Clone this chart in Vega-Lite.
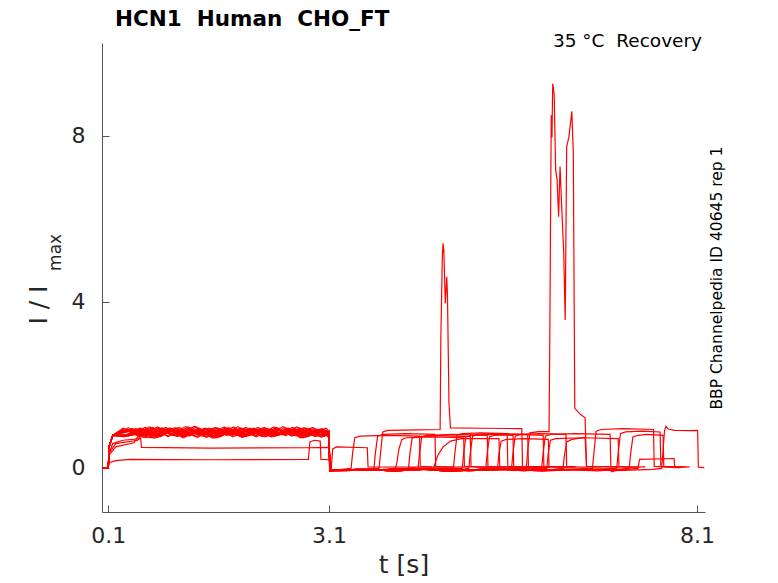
{
  "$schema": "https://vega.github.io/schema/vega-lite/v6.json",
  "width": 603,
  "height": 469,
  "autosize": {"type": "none"},
  "padding": {"left": 102, "top": 43, "right": 73, "bottom": 71},
  "title": {
    "text": "HCN1\u00a0\u00a0Human\u00a0\u00a0CHO_FT",
    "frame": "group",
    "anchor": "start",
    "dx": 13,
    "offset": 1,
    "fontSize": 21.5,
    "fontWeight": "bold",
    "color": "#000000"
  },
  "config": {
    "font": "DejaVu Sans",
    "view": {"stroke": null},
    "axis": {
      "grid": false,
      "domainColor": "#555555",
      "tickColor": "#555555",
      "labelColor": "#262626",
      "titleColor": "#262626",
      "labelFontSize": 22,
      "titleFontSize": 25,
      "titleFontWeight": "normal",
      "tickSize": -7
    }
  },
  "data": {
    "values": [
      {"s":1,"t":0,"v":0},{"s":1,"t":0.1,"v":-0.01},{"s":1,"t":0.11,"v":0.35},{"s":1,"t":0.16,"v":0.58},{"s":1,"t":0.3,"v":0.66},{"s":1,"t":0.54,"v":0.7},{"s":1,"t":0.55,"v":0.49},{"s":1,"t":1.5,"v":0.47},{"s":1,"t":2.8,"v":0.48},{"s":1,"t":3.1,"v":0.49},{"s":1,"t":3.11,"v":-0.04},{"s":1,"t":3.13,"v":-0.03},{"s":1,"t":3.15,"v":0.45},{"s":1,"t":3.2,"v":0.5},{"s":1,"t":3.62,"v":0.48},{"s":1,"t":3.63,"v":0.02},{"s":1,"t":4.5,"v":0.01},

      {"s":2,"t":0,"v":0},{"s":2,"t":0.1,"v":0},{"s":2,"t":0.11,"v":0.12},{"s":2,"t":0.2,"v":0.17},{"s":2,"t":0.4,"v":0.2},{"s":2,"t":1.5,"v":0.19},{"s":2,"t":2.82,"v":0.2},{"s":2,"t":2.84,"v":0.62},{"s":2,"t":2.9,"v":0.66},{"s":2,"t":2.98,"v":0.64},{"s":2,"t":2.99,"v":0.2},{"s":2,"t":3.1,"v":0.19},{"s":2,"t":3.11,"v":-0.06},{"s":2,"t":5.0,"v":-0.05},{"s":2,"t":6.9,"v":-0.04},{"s":2,"t":6.95,"v":-0.1},{"s":2,"t":7.0,"v":-0.06},{"s":2,"t":7.3,"v":-0.02},{"s":2,"t":7.32,"v":0.2},{"s":2,"t":7.79,"v":0.22},{"s":2,"t":7.8,"v":0.0},{"s":2,"t":7.88,"v":0.0},

      {"s":3,"t":0,"v":0},{"s":3,"t":0.1,"v":-0.01},{"s":3,"t":0.11,"v":0.5},{"s":3,"t":0.16,"v":0.78},
      {"s":3,"t":0.3,"v":0.95},{"s":3,"t":0.5,"v":0.78},{"s":3,"t":0.7,"v":0.97},{"s":3,"t":0.9,"v":0.77},{"s":3,"t":1.1,"v":0.92},{"s":3,"t":1.3,"v":0.75},{"s":3,"t":1.5,"v":0.94},{"s":3,"t":1.7,"v":0.80},{"s":3,"t":1.9,"v":0.96},{"s":3,"t":2.1,"v":0.76},{"s":3,"t":2.3,"v":0.93},{"s":3,"t":2.5,"v":0.79},{"s":3,"t":2.7,"v":0.95},{"s":3,"t":2.9,"v":0.77},{"s":3,"t":3.1,"v":0.86},
      {"s":3,"t":3.11,"v":-0.07},{"s":3,"t":3.4,"v":-0.02},
      {"s":3,"t":3.42,"v":0.35},{"s":3,"t":3.45,"v":0.72},{"s":3,"t":3.52,"v":0.76},{"s":3,"t":3.88,"v":0.78},{"s":3,"t":4.33,"v":0.76},{"s":3,"t":4.34,"v":0.03},{"s":3,"t":4.53,"v":0.01},{"s":3,"t":4.8,"v":0.02},

      {"s":4,"t":0,"v":0},{"s":4,"t":0.1,"v":-0.01},{"s":4,"t":0.11,"v":0.5},{"s":4,"t":0.16,"v":0.78},
      {"s":4,"t":0.325,"v":0.75},{"s":4,"t":0.525,"v":0.95},{"s":4,"t":0.725,"v":0.77},{"s":4,"t":0.925,"v":0.94},{"s":4,"t":1.125,"v":0.73},{"s":4,"t":1.325,"v":0.92},{"s":4,"t":1.525,"v":0.76},{"s":4,"t":1.725,"v":0.96},{"s":4,"t":1.925,"v":0.74},{"s":4,"t":2.125,"v":0.91},{"s":4,"t":2.325,"v":0.75},{"s":4,"t":2.525,"v":0.95},{"s":4,"t":2.725,"v":0.78},{"s":4,"t":2.925,"v":0.92},{"s":4,"t":3.1,"v":0.84},
      {"s":4,"t":3.11,"v":-0.07},{"s":4,"t":3.45,"v":-0.05},{"s":4,"t":3.71,"v":-0.02},
      {"s":4,"t":3.73,"v":0.35},{"s":4,"t":3.76,"v":0.76},{"s":4,"t":3.83,"v":0.80},{"s":4,"t":4.14,"v":0.82},{"s":4,"t":4.54,"v":0.80},{"s":4,"t":4.55,"v":0.03},{"s":4,"t":4.74,"v":0.01},{"s":4,"t":5.0,"v":0.02},

      {"s":5,"t":0,"v":0},{"s":5,"t":0.1,"v":-0.01},{"s":5,"t":0.11,"v":0.5},{"s":5,"t":0.16,"v":0.78},
      {"s":5,"t":0.35,"v":0.93},{"s":5,"t":0.55,"v":0.77},{"s":5,"t":0.75,"v":0.96},{"s":5,"t":0.95,"v":0.81},{"s":5,"t":1.15,"v":0.99},{"s":5,"t":1.35,"v":0.80},{"s":5,"t":1.55,"v":0.97},{"s":5,"t":1.75,"v":0.78},{"s":5,"t":1.95,"v":0.94},{"s":5,"t":2.15,"v":0.79},{"s":5,"t":2.35,"v":0.98},{"s":5,"t":2.55,"v":0.80},{"s":5,"t":2.75,"v":0.96},{"s":5,"t":2.95,"v":0.77},{"s":5,"t":3.1,"v":0.88},
      {"s":5,"t":3.11,"v":-0.07},{"s":5,"t":3.5,"v":-0.04},{"s":5,"t":3.78,"v":-0.02},
      {"s":5,"t":3.80,"v":0.35},{"s":5,"t":3.83,"v":0.86},{"s":5,"t":3.9,"v":0.9},{"s":5,"t":4.3,"v":0.91},{"s":5,"t":4.61,"v":0.92},{"s":5,"t":4.62,"v":3.16},{"s":5,"t":4.64,"v":5.09},{"s":5,"t":4.65,"v":5.41},{"s":5,"t":4.66,"v":5.25},{"s":5,"t":4.68,"v":3.96},{"s":5,"t":4.70,"v":4.60},{"s":5,"t":4.71,"v":4.12},{"s":5,"t":4.73,"v":1.56},{"s":5,"t":4.75,"v":0.96},{"s":5,"t":5.2,"v":0.95},{"s":5,"t":5.72,"v":0.94},{"s":5,"t":5.73,"v":0.03},{"s":5,"t":5.92,"v":0.01},{"s":5,"t":6.1,"v":0.02},

      {"s":6,"t":0,"v":0},{"s":6,"t":0.1,"v":-0.01},{"s":6,"t":0.11,"v":0.5},{"s":6,"t":0.16,"v":0.78},
      {"s":6,"t":0.375,"v":0.76},{"s":6,"t":0.575,"v":0.90},{"s":6,"t":0.775,"v":0.73},{"s":6,"t":0.975,"v":0.93},{"s":6,"t":1.175,"v":0.77},{"s":6,"t":1.375,"v":0.92},{"s":6,"t":1.575,"v":0.72},{"s":6,"t":1.775,"v":0.89},{"s":6,"t":1.975,"v":0.75},{"s":6,"t":2.175,"v":0.94},{"s":6,"t":2.375,"v":0.76},{"s":6,"t":2.575,"v":0.91},{"s":6,"t":2.775,"v":0.73},{"s":6,"t":2.975,"v":0.88},{"s":6,"t":3.1,"v":0.83},
      {"s":6,"t":3.11,"v":-0.07},{"s":6,"t":3.75,"v":-0.06},{"s":6,"t":4.0,"v":-0.02},
      {"s":6,"t":4.02,"v":0.1},{"s":6,"t":4.05,"v":0.45},{"s":6,"t":4.09,"v":0.68},{"s":6,"t":4.15,"v":0.72},{"s":6,"t":4.49,"v":0.74},{"s":6,"t":4.93,"v":0.72},{"s":6,"t":4.94,"v":0.03},{"s":6,"t":5.13,"v":0.01},{"s":6,"t":5.4,"v":0.02},

      {"s":7,"t":0,"v":0},{"s":7,"t":0.1,"v":-0.01},{"s":7,"t":0.11,"v":0.5},{"s":7,"t":0.16,"v":0.78},
      {"s":7,"t":0.4,"v":0.78},{"s":7,"t":0.6,"v":0.97},{"s":7,"t":0.8,"v":0.80},{"s":7,"t":1.0,"v":0.96},{"s":7,"t":1.2,"v":0.76},{"s":7,"t":1.4,"v":0.94},{"s":7,"t":1.6,"v":0.79},{"s":7,"t":1.8,"v":0.98},{"s":7,"t":2.0,"v":0.77},{"s":7,"t":2.2,"v":0.93},{"s":7,"t":2.4,"v":0.78},{"s":7,"t":2.6,"v":0.97},{"s":7,"t":2.8,"v":0.81},{"s":7,"t":3.0,"v":0.94},{"s":7,"t":3.1,"v":0.87},
      {"s":7,"t":3.11,"v":-0.07},{"s":7,"t":3.5,"v":-0.04},{"s":7,"t":4.0,"v":-0.08},{"s":7,"t":4.18,"v":-0.02},
      {"s":7,"t":4.20,"v":0.35},{"s":7,"t":4.23,"v":0.71},{"s":7,"t":4.30,"v":0.75},{"s":7,"t":4.61,"v":0.77},{"s":7,"t":5.02,"v":0.75},{"s":7,"t":5.03,"v":0.03},{"s":7,"t":5.22,"v":0.01},{"s":7,"t":5.5,"v":0.02},

      {"s":8,"t":0,"v":0},{"s":8,"t":0.1,"v":-0.01},{"s":8,"t":0.11,"v":0.5},{"s":8,"t":0.16,"v":0.78},
      {"s":8,"t":0.425,"v":0.94},{"s":8,"t":0.625,"v":0.77},{"s":8,"t":0.825,"v":0.96},{"s":8,"t":1.025,"v":0.76},{"s":8,"t":1.225,"v":0.91},{"s":8,"t":1.425,"v":0.74},{"s":8,"t":1.625,"v":0.93},{"s":8,"t":1.825,"v":0.79},{"s":8,"t":2.025,"v":0.95},{"s":8,"t":2.225,"v":0.75},{"s":8,"t":2.425,"v":0.92},{"s":8,"t":2.625,"v":0.78},{"s":8,"t":2.825,"v":0.94},{"s":8,"t":3.025,"v":0.76},{"s":8,"t":3.1,"v":0.85},
      {"s":8,"t":3.11,"v":-0.07},{"s":8,"t":3.75,"v":-0.06},{"s":8,"t":4.31,"v":-0.02},
      {"s":8,"t":4.33,"v":0.35},{"s":8,"t":4.36,"v":0.74},{"s":8,"t":4.43,"v":0.78},{"s":8,"t":4.79,"v":0.80},{"s":8,"t":5.25,"v":0.78},{"s":8,"t":5.26,"v":0.03},{"s":8,"t":5.45,"v":0.01},{"s":8,"t":5.7,"v":0.02},

      {"s":9,"t":0,"v":0},{"s":9,"t":0.1,"v":-0.01},{"s":9,"t":0.11,"v":0.3},{"s":9,"t":0.2,"v":0.5},{"s":9,"t":0.45,"v":0.6},{"s":9,"t":0.5,"v":0.75},
      {"s":9,"t":0.745,"v":0.72},{"s":9,"t":0.945,"v":0.92},{"s":9,"t":1.145,"v":0.76},{"s":9,"t":1.345,"v":0.91},{"s":9,"t":1.545,"v":0.71},{"s":9,"t":1.745,"v":0.88},{"s":9,"t":1.945,"v":0.74},{"s":9,"t":2.145,"v":0.93},{"s":9,"t":2.345,"v":0.75},{"s":9,"t":2.545,"v":0.90},{"s":9,"t":2.745,"v":0.72},{"s":9,"t":2.945,"v":0.87},{"s":9,"t":3.1,"v":0.82},
      {"s":9,"t":3.11,"v":-0.07},{"s":9,"t":3.5,"v":-0.04},{"s":9,"t":4.0,"v":-0.08},{"s":9,"t":4.52,"v":-0.02},
      {"s":9,"t":4.54,"v":0.1},{"s":9,"t":4.58,"v":0.3},{"s":9,"t":4.65,"v":0.5},{"s":9,"t":4.75,"v":0.64},{"s":9,"t":4.9,"v":0.70},{"s":9,"t":5.41,"v":0.70},{"s":9,"t":5.42,"v":0.03},{"s":9,"t":5.61,"v":0.01},{"s":9,"t":5.9,"v":0.02},

      {"s":10,"t":0,"v":0},{"s":10,"t":0.1,"v":-0.01},{"s":10,"t":0.11,"v":0.5},{"s":10,"t":0.16,"v":0.78},
      {"s":10,"t":0.475,"v":0.94},{"s":10,"t":0.675,"v":0.78},{"s":10,"t":0.875,"v":0.97},{"s":10,"t":1.075,"v":0.82},{"s":10,"t":1.275,"v":1.0},{"s":10,"t":1.475,"v":0.81},{"s":10,"t":1.675,"v":0.98},{"s":10,"t":1.875,"v":0.79},{"s":10,"t":2.075,"v":0.95},{"s":10,"t":2.275,"v":0.80},{"s":10,"t":2.475,"v":0.99},{"s":10,"t":2.675,"v":0.81},{"s":10,"t":2.875,"v":0.97},{"s":10,"t":3.075,"v":0.78},{"s":10,"t":3.1,"v":0.89},
      {"s":10,"t":3.11,"v":-0.07},{"s":10,"t":3.75,"v":-0.06},{"s":10,"t":4.25,"v":-0.02},{"s":10,"t":4.75,"v":-0.09},{"s":10,"t":4.79,"v":-0.02},
      {"s":10,"t":4.81,"v":0.35},{"s":10,"t":4.84,"v":0.78},{"s":10,"t":4.91,"v":0.82},{"s":10,"t":5.17,"v":0.84},{"s":10,"t":5.52,"v":0.82},{"s":10,"t":5.53,"v":0.03},{"s":10,"t":5.72,"v":0.01},{"s":10,"t":6.0,"v":0.02},

      {"s":11,"t":0,"v":0},{"s":11,"t":0.1,"v":-0.01},{"s":11,"t":0.11,"v":0.5},{"s":11,"t":0.16,"v":0.78},
      {"s":11,"t":0.31,"v":0.93},{"s":11,"t":0.51,"v":0.76},{"s":11,"t":0.71,"v":0.95},{"s":11,"t":0.91,"v":0.75},{"s":11,"t":1.11,"v":0.90},{"s":11,"t":1.31,"v":0.73},{"s":11,"t":1.51,"v":0.92},{"s":11,"t":1.71,"v":0.78},{"s":11,"t":1.91,"v":0.94},{"s":11,"t":2.11,"v":0.74},{"s":11,"t":2.31,"v":0.91},{"s":11,"t":2.51,"v":0.77},{"s":11,"t":2.71,"v":0.93},{"s":11,"t":2.91,"v":0.75},{"s":11,"t":3.1,"v":0.84},
      {"s":11,"t":3.11,"v":-0.07},{"s":11,"t":3.5,"v":-0.04},{"s":11,"t":4.0,"v":-0.08},{"s":11,"t":4.5,"v":-0.03},{"s":11,"t":4.91,"v":-0.02},
      {"s":11,"t":4.93,"v":0.35},{"s":11,"t":4.96,"v":0.74},{"s":11,"t":5.03,"v":0.78},{"s":11,"t":5.27,"v":0.80},{"s":11,"t":5.60,"v":0.78},{"s":11,"t":5.61,"v":0.03},{"s":11,"t":5.80,"v":0.01},{"s":11,"t":6.1,"v":0.02},

      {"s":12,"t":0,"v":0},{"s":12,"t":0.1,"v":-0.01},{"s":12,"t":0.11,"v":0.5},{"s":12,"t":0.16,"v":0.78},
      {"s":12,"t":0.335,"v":0.79},{"s":12,"t":0.535,"v":0.93},{"s":12,"t":0.735,"v":0.76},{"s":12,"t":0.935,"v":0.96},{"s":12,"t":1.135,"v":0.80},{"s":12,"t":1.335,"v":0.95},{"s":12,"t":1.535,"v":0.75},{"s":12,"t":1.735,"v":0.92},{"s":12,"t":1.935,"v":0.78},{"s":12,"t":2.135,"v":0.97},{"s":12,"t":2.335,"v":0.79},{"s":12,"t":2.535,"v":0.94},{"s":12,"t":2.735,"v":0.76},{"s":12,"t":2.935,"v":0.91},{"s":12,"t":3.1,"v":0.86},
      {"s":12,"t":3.11,"v":-0.07},{"s":12,"t":3.75,"v":-0.06},{"s":12,"t":4.25,"v":-0.02},{"s":12,"t":4.75,"v":-0.09},{"s":12,"t":5.00,"v":-0.02},
      {"s":12,"t":5.02,"v":0.35},{"s":12,"t":5.05,"v":0.76},{"s":12,"t":5.12,"v":0.80},{"s":12,"t":5.41,"v":0.82},{"s":12,"t":5.80,"v":0.80},{"s":12,"t":5.81,"v":0.03},{"s":12,"t":6.0,"v":0.01},{"s":12,"t":6.3,"v":0.02},

      {"s":13,"t":0,"v":0},{"s":13,"t":0.1,"v":-0.01},{"s":13,"t":0.11,"v":0.35},{"s":13,"t":0.2,"v":0.58},{"s":13,"t":0.5,"v":0.66},{"s":13,"t":0.55,"v":0.8},
      {"s":13,"t":0.715,"v":0.76},{"s":13,"t":0.915,"v":0.92},{"s":13,"t":1.115,"v":0.72},{"s":13,"t":1.315,"v":0.90},{"s":13,"t":1.515,"v":0.75},{"s":13,"t":1.715,"v":0.94},{"s":13,"t":1.915,"v":0.73},{"s":13,"t":2.115,"v":0.89},{"s":13,"t":2.315,"v":0.74},{"s":13,"t":2.515,"v":0.93},{"s":13,"t":2.715,"v":0.77},{"s":13,"t":2.915,"v":0.90},{"s":13,"t":3.1,"v":0.83},
      {"s":13,"t":3.11,"v":-0.07},{"s":13,"t":3.5,"v":-0.04},{"s":13,"t":4.0,"v":-0.08},{"s":13,"t":4.5,"v":-0.03},{"s":13,"t":5.0,"v":-0.07},{"s":13,"t":5.23,"v":-0.02},
      {"s":13,"t":5.25,"v":0.35},{"s":13,"t":5.28,"v":0.74},{"s":13,"t":5.35,"v":0.78},{"s":13,"t":5.63,"v":0.80},{"s":13,"t":6.01,"v":0.78},{"s":13,"t":6.02,"v":0.03},{"s":13,"t":6.21,"v":0.01},{"s":13,"t":6.45,"v":0.02},

      {"s":14,"t":0,"v":0},{"s":14,"t":0.1,"v":-0.01},{"s":14,"t":0.11,"v":0.5},{"s":14,"t":0.16,"v":0.78},
      {"s":14,"t":0.385,"v":0.92},{"s":14,"t":0.585,"v":0.76},{"s":14,"t":0.785,"v":0.95},{"s":14,"t":0.985,"v":0.80},{"s":14,"t":1.185,"v":0.98},{"s":14,"t":1.385,"v":0.79},{"s":14,"t":1.585,"v":0.96},{"s":14,"t":1.785,"v":0.77},{"s":14,"t":1.985,"v":0.93},{"s":14,"t":2.185,"v":0.78},{"s":14,"t":2.385,"v":0.97},{"s":14,"t":2.585,"v":0.79},{"s":14,"t":2.785,"v":0.95},{"s":14,"t":2.985,"v":0.76},{"s":14,"t":3.1,"v":0.87},
      {"s":14,"t":3.11,"v":-0.07},{"s":14,"t":3.75,"v":-0.06},{"s":14,"t":4.25,"v":-0.02},{"s":14,"t":4.75,"v":-0.09},{"s":14,"t":5.25,"v":-0.03},{"s":14,"t":5.39,"v":-0.02},
      {"s":14,"t":5.41,"v":0.35},{"s":14,"t":5.44,"v":0.64},{"s":14,"t":5.51,"v":0.68},{"s":14,"t":5.75,"v":0.70},{"s":14,"t":6.08,"v":0.68},{"s":14,"t":6.09,"v":0.03},{"s":14,"t":6.28,"v":0.01},{"s":14,"t":6.45,"v":0.02},

      {"s":15,"t":0,"v":0},{"s":15,"t":0.1,"v":-0.01},{"s":15,"t":0.11,"v":0.5},{"s":15,"t":0.16,"v":0.78},
      {"s":15,"t":0.41,"v":0.78},{"s":15,"t":0.61,"v":0.92},{"s":15,"t":0.81,"v":0.75},{"s":15,"t":1.01,"v":0.95},{"s":15,"t":1.21,"v":0.79},{"s":15,"t":1.41,"v":0.94},{"s":15,"t":1.61,"v":0.74},{"s":15,"t":1.81,"v":0.91},{"s":15,"t":2.01,"v":0.77},{"s":15,"t":2.21,"v":0.96},{"s":15,"t":2.41,"v":0.78},{"s":15,"t":2.61,"v":0.93},{"s":15,"t":2.81,"v":0.75},{"s":15,"t":3.01,"v":0.90},{"s":15,"t":3.1,"v":0.85},
      {"s":15,"t":3.11,"v":-0.07},{"s":15,"t":3.5,"v":-0.04},{"s":15,"t":4.0,"v":-0.08},{"s":15,"t":4.5,"v":-0.03},{"s":15,"t":5.0,"v":-0.07},{"s":15,"t":5.5,"v":-0.04},{"s":15,"t":5.58,"v":-0.02},
      {"s":15,"t":5.60,"v":0.35},{"s":15,"t":5.63,"v":0.76},{"s":15,"t":5.70,"v":0.80},{"s":15,"t":5.96,"v":0.82},{"s":15,"t":6.32,"v":0.80},{"s":15,"t":6.33,"v":0.03},{"s":15,"t":6.52,"v":0.01},{"s":15,"t":6.8,"v":0.02},

      {"s":16,"t":0,"v":0},{"s":16,"t":0.1,"v":-0.01},{"s":16,"t":0.11,"v":0.5},{"s":16,"t":0.16,"v":0.78},
      {"s":16,"t":0.435,"v":0.93},{"s":16,"t":0.635,"v":0.76},{"s":16,"t":0.835,"v":0.95},{"s":16,"t":1.035,"v":0.75},{"s":16,"t":1.235,"v":0.90},{"s":16,"t":1.435,"v":0.73},{"s":16,"t":1.635,"v":0.92},{"s":16,"t":1.835,"v":0.78},{"s":16,"t":2.035,"v":0.94},{"s":16,"t":2.235,"v":0.74},{"s":16,"t":2.435,"v":0.91},{"s":16,"t":2.635,"v":0.77},{"s":16,"t":2.835,"v":0.93},{"s":16,"t":3.035,"v":0.75},{"s":16,"t":3.1,"v":0.84},
      {"s":16,"t":3.11,"v":-0.07},{"s":16,"t":3.75,"v":-0.06},{"s":16,"t":4.25,"v":-0.02},{"s":16,"t":4.75,"v":-0.09},{"s":16,"t":5.25,"v":-0.03},{"s":16,"t":5.78,"v":-0.02},
      {"s":16,"t":5.80,"v":0.4},{"s":16,"t":5.83,"v":0.84},{"s":16,"t":5.95,"v":0.87},{"s":16,"t":6.09,"v":0.87},{"s":16,"t":6.10,"v":3.0},{"s":16,"t":6.12,"v":8.5},{"s":16,"t":6.13,"v":7.96},{"s":16,"t":6.14,"v":9.26},{"s":16,"t":6.16,"v":9.0},{"s":16,"t":6.18,"v":7.18},{"s":16,"t":6.20,"v":6.94},{"s":16,"t":6.22,"v":6.05},{"s":16,"t":6.24,"v":7.26},{"s":16,"t":6.26,"v":6.38},{"s":16,"t":6.29,"v":5.17},{"s":16,"t":6.31,"v":3.56},{"s":16,"t":6.33,"v":7.74},{"s":16,"t":6.36,"v":7.97},{"s":16,"t":6.40,"v":8.59},{"s":16,"t":6.42,"v":7.59},{"s":16,"t":6.44,"v":1.43},{"s":16,"t":6.52,"v":1.28},{"s":16,"t":6.58,"v":1.2},{"s":16,"t":6.60,"v":0.03},{"s":16,"t":7.0,"v":0.02},

      {"s":17,"t":0,"v":0},{"s":17,"t":0.1,"v":-0.01},{"s":17,"t":0.11,"v":0.5},{"s":17,"t":0.16,"v":0.78},
      {"s":17,"t":0.46,"v":0.79},{"s":17,"t":0.66,"v":0.98},{"s":17,"t":0.86,"v":0.81},{"s":17,"t":1.06,"v":0.97},{"s":17,"t":1.26,"v":0.77},{"s":17,"t":1.46,"v":0.95},{"s":17,"t":1.66,"v":0.80},{"s":17,"t":1.86,"v":0.99},{"s":17,"t":2.06,"v":0.78},{"s":17,"t":2.26,"v":0.94},{"s":17,"t":2.46,"v":0.79},{"s":17,"t":2.66,"v":0.98},{"s":17,"t":2.86,"v":0.82},{"s":17,"t":3.06,"v":0.95},{"s":17,"t":3.1,"v":0.88},
      {"s":17,"t":3.11,"v":-0.07},{"s":17,"t":3.5,"v":-0.04},{"s":17,"t":4.0,"v":-0.08},{"s":17,"t":4.5,"v":-0.03},{"s":17,"t":5.0,"v":-0.07},{"s":17,"t":5.5,"v":-0.04},{"s":17,"t":6.0,"v":-0.08},{"s":17,"t":6.28,"v":-0.02},
      {"s":17,"t":6.30,"v":0.3},{"s":17,"t":6.33,"v":0.62},{"s":17,"t":6.40,"v":0.68},{"s":17,"t":6.58,"v":0.73},{"s":17,"t":6.60,"v":0.03},{"s":17,"t":7.05,"v":0.02},

      {"s":18,"t":0,"v":0},{"s":18,"t":0.1,"v":-0.01},{"s":18,"t":0.11,"v":0.5},{"s":18,"t":0.16,"v":0.78},
      {"s":18,"t":0.485,"v":0.91},{"s":18,"t":0.685,"v":0.75},{"s":18,"t":0.885,"v":0.94},{"s":18,"t":1.085,"v":0.79},{"s":18,"t":1.285,"v":0.97},{"s":18,"t":1.485,"v":0.78},{"s":18,"t":1.685,"v":0.95},{"s":18,"t":1.885,"v":0.76},{"s":18,"t":2.085,"v":0.92},{"s":18,"t":2.285,"v":0.77},{"s":18,"t":2.485,"v":0.96},{"s":18,"t":2.685,"v":0.78},{"s":18,"t":2.885,"v":0.94},{"s":18,"t":3.085,"v":0.75},{"s":18,"t":3.1,"v":0.86},
      {"s":18,"t":3.11,"v":-0.07},{"s":18,"t":3.75,"v":-0.06},{"s":18,"t":4.25,"v":-0.02},{"s":18,"t":4.75,"v":-0.09},{"s":18,"t":5.25,"v":-0.03},{"s":18,"t":5.75,"v":-0.07},{"s":18,"t":6.25,"v":-0.04},{"s":18,"t":6.68,"v":-0.02},
      {"s":18,"t":6.70,"v":0.35},{"s":18,"t":6.73,"v":0.88},{"s":18,"t":6.80,"v":0.92},{"s":18,"t":7.1,"v":0.94},{"s":18,"t":7.51,"v":0.92},{"s":18,"t":7.52,"v":0.03},{"s":18,"t":7.71,"v":0.01},{"s":18,"t":7.9,"v":0.02},

      {"s":19,"t":0,"v":0},{"s":19,"t":0.1,"v":-0.01},{"s":19,"t":0.11,"v":0.5},{"s":19,"t":0.16,"v":0.78},
      {"s":19,"t":0.315,"v":0.75},{"s":19,"t":0.515,"v":0.89},{"s":19,"t":0.715,"v":0.72},{"s":19,"t":0.915,"v":0.92},{"s":19,"t":1.115,"v":0.76},{"s":19,"t":1.315,"v":0.91},{"s":19,"t":1.515,"v":0.71},{"s":19,"t":1.715,"v":0.88},{"s":19,"t":1.915,"v":0.74},{"s":19,"t":2.115,"v":0.93},{"s":19,"t":2.315,"v":0.75},{"s":19,"t":2.515,"v":0.90},{"s":19,"t":2.715,"v":0.72},{"s":19,"t":2.915,"v":0.87},{"s":19,"t":3.1,"v":0.82},
      {"s":19,"t":3.11,"v":-0.07},{"s":19,"t":3.5,"v":-0.04},{"s":19,"t":4.0,"v":-0.08},{"s":19,"t":4.5,"v":-0.03},{"s":19,"t":5.0,"v":-0.07},{"s":19,"t":5.5,"v":-0.04},{"s":19,"t":5.99,"v":-0.02},
      {"s":19,"t":6.01,"v":0.35},{"s":19,"t":6.04,"v":0.76},{"s":19,"t":6.11,"v":0.80},{"s":19,"t":6.46,"v":0.82},{"s":19,"t":6.92,"v":0.80},{"s":19,"t":6.93,"v":0.03},{"s":19,"t":7.12,"v":0.01},{"s":19,"t":7.3,"v":0.02},

      {"s":20,"t":0,"v":0},{"s":20,"t":0.1,"v":-0.01},{"s":20,"t":0.11,"v":0.5},{"s":20,"t":0.16,"v":0.78},
      {"s":20,"t":0.345,"v":0.76},{"s":20,"t":0.545,"v":0.95},{"s":20,"t":0.745,"v":0.78},{"s":20,"t":0.945,"v":0.94},{"s":20,"t":1.145,"v":0.74},{"s":20,"t":1.345,"v":0.92},{"s":20,"t":1.545,"v":0.77},{"s":20,"t":1.745,"v":0.96},{"s":20,"t":1.945,"v":0.75},{"s":20,"t":2.145,"v":0.91},{"s":20,"t":2.345,"v":0.76},{"s":20,"t":2.545,"v":0.95},{"s":20,"t":2.745,"v":0.79},{"s":20,"t":2.945,"v":0.92},{"s":20,"t":3.1,"v":0.85},
      {"s":20,"t":3.11,"v":-0.07},{"s":20,"t":3.75,"v":-0.06},{"s":20,"t":4.25,"v":-0.02},{"s":20,"t":4.75,"v":-0.09},{"s":20,"t":5.25,"v":-0.03},{"s":20,"t":5.75,"v":-0.07},{"s":20,"t":6.06,"v":-0.02},
      {"s":20,"t":6.08,"v":0.35},{"s":20,"t":6.11,"v":0.66},{"s":20,"t":6.18,"v":0.70},{"s":20,"t":6.55,"v":0.72},{"s":20,"t":7.03,"v":0.70},{"s":20,"t":7.04,"v":0.03},{"s":20,"t":7.23,"v":0.01},{"s":20,"t":7.4,"v":0.02},

      {"s":21,"t":0,"v":0},{"s":21,"t":0.1,"v":-0.01},{"s":21,"t":0.11,"v":0.5},{"s":21,"t":0.16,"v":0.78},
      {"s":21,"t":0.37,"v":0.96},{"s":21,"t":0.57,"v":0.79},{"s":21,"t":0.77,"v":0.98},{"s":21,"t":0.97,"v":0.78},{"s":21,"t":1.17,"v":0.93},{"s":21,"t":1.37,"v":0.76},{"s":21,"t":1.57,"v":0.95},{"s":21,"t":1.77,"v":0.81},{"s":21,"t":1.97,"v":0.97},{"s":21,"t":2.17,"v":0.77},{"s":21,"t":2.37,"v":0.94},{"s":21,"t":2.57,"v":0.80},{"s":21,"t":2.77,"v":0.96},{"s":21,"t":2.97,"v":0.78},{"s":21,"t":3.1,"v":0.87},
      {"s":21,"t":3.11,"v":-0.07},{"s":21,"t":3.5,"v":-0.04},{"s":21,"t":4.0,"v":-0.08},{"s":21,"t":4.5,"v":-0.03},{"s":21,"t":5.0,"v":-0.07},{"s":21,"t":5.5,"v":-0.04},{"s":21,"t":6.0,"v":-0.08},{"s":21,"t":6.5,"v":-0.05},{"s":21,"t":7.01,"v":-0.02},
      {"s":21,"t":7.03,"v":0.35},{"s":21,"t":7.06,"v":0.82},{"s":21,"t":7.13,"v":0.86},{"s":21,"t":7.35,"v":0.88},{"s":21,"t":7.60,"v":0.86},{"s":21,"t":7.61,"v":0.03},{"s":21,"t":7.8,"v":0.01},{"s":21,"t":7.95,"v":0.02},

      {"s":22,"t":0,"v":0},{"s":22,"t":0.1,"v":-0.01},{"s":22,"t":0.11,"v":0.5},{"s":22,"t":0.16,"v":0.78},
      {"s":22,"t":0.395,"v":0.89},{"s":22,"t":0.595,"v":0.73},{"s":22,"t":0.795,"v":0.92},{"s":22,"t":0.995,"v":0.77},{"s":22,"t":1.195,"v":0.95},{"s":22,"t":1.395,"v":0.76},{"s":22,"t":1.595,"v":0.93},{"s":22,"t":1.795,"v":0.74},{"s":22,"t":1.995,"v":0.90},{"s":22,"t":2.195,"v":0.75},{"s":22,"t":2.395,"v":0.94},{"s":22,"t":2.595,"v":0.76},{"s":22,"t":2.795,"v":0.92},{"s":22,"t":2.995,"v":0.73},{"s":22,"t":3.1,"v":0.84},
      {"s":22,"t":3.11,"v":-0.07},{"s":22,"t":3.75,"v":-0.06},{"s":22,"t":4.25,"v":-0.02},{"s":22,"t":4.75,"v":-0.09},{"s":22,"t":5.25,"v":-0.03},{"s":22,"t":5.75,"v":-0.07},{"s":22,"t":6.25,"v":-0.04},{"s":22,"t":6.75,"v":-0.08},{"s":22,"t":7.18,"v":-0.02},
      {"s":22,"t":7.20,"v":0.35},{"s":22,"t":7.23,"v":0.74},{"s":22,"t":7.30,"v":0.78},{"s":22,"t":7.42,"v":0.80},{"s":22,"t":7.64,"v":0.78},{"s":22,"t":7.65,"v":0.03},{"s":22,"t":7.84,"v":0.01},{"s":22,"t":8.0,"v":0.02},

      {"s":23,"t":0,"v":0},{"s":23,"t":0.1,"v":-0.01},{"s":23,"t":0.11,"v":0.5},{"s":23,"t":0.16,"v":0.78},
      {"s":23,"t":0.42,"v":0.79},{"s":23,"t":0.62,"v":0.93},{"s":23,"t":0.82,"v":0.76},{"s":23,"t":1.02,"v":0.96},{"s":23,"t":1.22,"v":0.80},{"s":23,"t":1.42,"v":0.95},{"s":23,"t":1.62,"v":0.75},{"s":23,"t":1.82,"v":0.92},{"s":23,"t":2.02,"v":0.78},{"s":23,"t":2.22,"v":0.97},{"s":23,"t":2.42,"v":0.79},{"s":23,"t":2.62,"v":0.94},{"s":23,"t":2.82,"v":0.76},{"s":23,"t":3.02,"v":0.91},{"s":23,"t":3.1,"v":0.86},
      {"s":23,"t":3.11,"v":-0.07},{"s":23,"t":3.5,"v":-0.04},{"s":23,"t":4.0,"v":-0.08},{"s":23,"t":4.5,"v":-0.03},{"s":23,"t":5.0,"v":-0.07},{"s":23,"t":5.5,"v":-0.04},{"s":23,"t":6.0,"v":-0.08},{"s":23,"t":6.5,"v":-0.05},{"s":23,"t":7.0,"v":-0.07},{"s":23,"t":7.5,"v":-0.04},{"s":23,"t":7.62,"v":-0.02},
      {"s":23,"t":7.64,"v":0.4},{"s":23,"t":7.66,"v":0.9},{"s":23,"t":7.68,"v":1.0},{"s":23,"t":7.71,"v":0.93},{"s":23,"t":7.8,"v":0.9},{"s":23,"t":8.0,"v":0.89},{"s":23,"t":8.11,"v":0.9},{"s":23,"t":8.12,"v":0.01},{"s":23,"t":8.2,"v":0.0}
    ]
  },
  "layer": [
    {
      "mark": {"type": "line", "color": "#ff0000", "strokeWidth": 1.2, "clip": true},
      "encoding": {
        "x": {
          "field": "t",
          "type": "quantitative",
          "scale": {"domain": [0.014, 8.21], "nice": false, "zero": false},
          "axis": {"values": [0.1, 3.1, 8.1], "format": ".1f", "title": "t [s]", "labelPadding": 20, "titlePadding": 6}
        },
        "y": {
          "field": "v",
          "type": "quantitative",
          "scale": {"domain": [-1.07, 10.24], "nice": false, "zero": false},
          "axis": {"values": [0, 4, 8], "format": "d", "title": null, "labelPadding": 24}
        },
        "detail": {"field": "s"}
      }
    },
    {
      "data": {"values": [{"label": "35 °C\u00a0\u00a0Recovery", "t": 8.17, "v": 10.15}]},
      "mark": {"type": "text", "align": "right", "baseline": "alphabetic", "fontSize": 18.5, "color": "#000000"},
      "encoding": {"x": {"field": "t", "type": "quantitative"}, "y": {"field": "v", "type": "quantitative"}, "text": {"field": "label"}}
    },
    {
      "data": {"values": [{"label": "BBP Channelpedia ID 40645 rep 1", "t": 8.37, "v": 4.57}]},
      "mark": {"type": "text", "angle": 270, "align": "center", "baseline": "middle", "fontSize": 15.5, "color": "#000000"},
      "encoding": {"x": {"field": "t", "type": "quantitative"}, "y": {"field": "v", "type": "quantitative"}, "text": {"field": "label"}}
    },
    {
      "data": {"values": [{"label": "I / I", "t": -0.84, "v": 3.92, "size": 25}, {"label": "max", "t": -0.61, "v": 5.19, "size": 17}]},
      "mark": {"type": "text", "angle": 270, "align": "center", "baseline": "middle", "color": "#262626"},
      "encoding": {
        "x": {"field": "t", "type": "quantitative"},
        "y": {"field": "v", "type": "quantitative"},
        "text": {"field": "label"},
        "size": {"field": "size", "type": "quantitative", "scale": null}
      }
    }
  ]
}
